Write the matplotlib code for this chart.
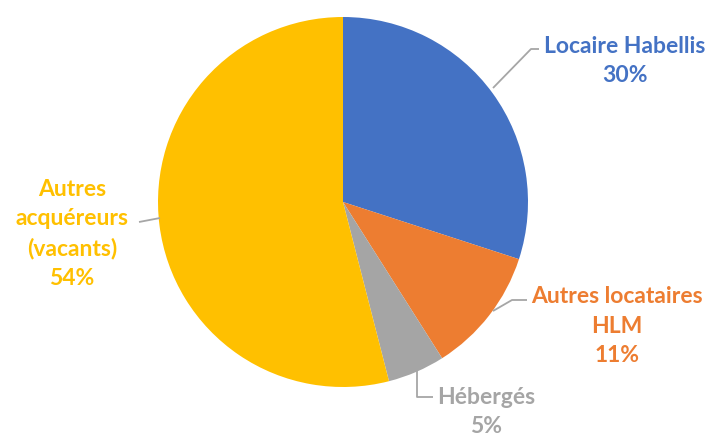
import matplotlib
matplotlib.use("Agg")
import matplotlib.pyplot as plt

labels = ["Locaire Habellis", "Autres locataires\nHLM", "Hébergés", "Autres\nacquéreurs\n(vacants)"]
values = [30, 11, 5, 54]
colors = ["#4472C4", "#ED7D31", "#A5A5A5", "#FFC000"]

W, H = 712, 436
CX, CY, R = 343, 202, 185

def p(x, y):
    return ((x - CX) / R, (CY - y) / R)

fig = plt.figure(figsize=(W / 100, H / 100), dpi=100)
ax = fig.add_axes([0, 0, 1, 1])

ax.pie(values, colors=colors, startangle=90, counterclock=False, radius=1,
       wedgeprops=dict(linewidth=0), center=(0, 0))

ax.set_xlim(p(0, 0)[0], p(W, 0)[0])
ax.set_ylim(p(0, H)[1], p(0, 0)[1])
ax.set_aspect("equal")
ax.axis("off")

font = dict(family=["Lato", "DejaVu Sans"], fontweight="bold", fontsize=16.5)
lc = "#A6A6A6"

def line(pts):
    xs, ys = zip(*[p(*q) for q in pts])
    ax.plot(xs, ys, color=lc, lw=1.3, solid_capstyle="butt")

line([(493, 88), (531, 49), (539, 49)])
line([(493, 311), (512, 300), (527, 300)])
line([(417, 368), (417, 397), (433, 397)])
line([(160, 218), (139, 222)])

texts = [
    (625, 61, f"{labels[0]}\n{values[0]}%"),
    (617, 326, f"{labels[1]}\n{values[1]}%"),
    (486, 412, f"{labels[2]}\n{values[2]}%"),
    (72, 234, f"{labels[3]}\n{values[3]}%"),
]
for (x, y, t), c in zip(texts, colors):
    ax.text(*p(x, y), t, color=c, ha="center", va="center", linespacing=1.5, **font)

fig.savefig("out.png", dpi=100)
